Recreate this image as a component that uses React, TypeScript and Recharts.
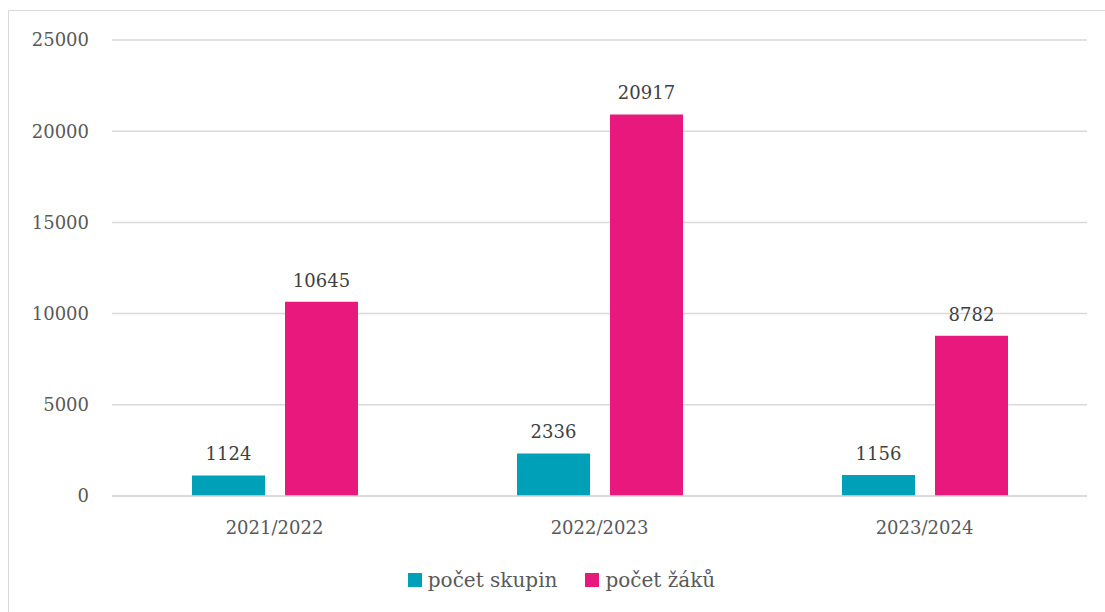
import { BarChart, Bar, CartesianGrid, LabelList, Legend, XAxis, YAxis } from "recharts";

const years = ["2021/2022", "2022/2023", "2023/2024"];
const groupCounts = [1124, 2336, 1156];
const pupilCounts = [10645, 20917, 8782];
const yTicks = [0, 5000, 10000, 15000, 20000, 25000];

const TEAL = "#00a0b9";
const PINK = "#e9187c";
const FONT = "'DejaVu Serif', serif";

const data = years.map((year, i) => ({
  year,
  groups: groupCounts[i],
  pupils: pupilCounts[i],
}));

function ChartLegend() {
  const items = [
    { label: "počet skupin", color: TEAL },
    { label: "počet žáků", color: PINK },
  ];
  return (
    <div
      style={{
        height: 30,
        display: "flex",
        justifyContent: "center",
        alignItems: "center",
        gap: 28,
        paddingRight: 16,
        fontFamily: FONT,
        fontSize: 20,
        color: "#595959",
      }}
    >
      {items.map((item) => (
        <div key={item.label} style={{ display: "flex", alignItems: "center", gap: 6 }}>
          <span style={{ width: 14, height: 14, background: item.color, display: "inline-block" }} />
          <span>{item.label}</span>
        </div>
      ))}
    </div>
  );
}

export default function App() {
  return (
    <div
      style={{
        position: "fixed",
        left: 8,
        top: 10,
        width: 1096,
        height: 601,
        borderLeft: "1px solid #d9d9d9",
        borderTop: "1px solid #d9d9d9",
        background: "#fff",
      }}
    >
      <BarChart
        width={1096}
        height={601}
        data={data}
        margin={{ top: 29, right: 18, left: 43, bottom: 17 }}
        barSize={73}
        barGap={20}
      >
        <CartesianGrid stroke="#d9d9d9" strokeWidth={1.5} vertical={false} />
        <XAxis
          dataKey="year"
          height={69}
          tickLine={false}
          tickSize={0}
          tickMargin={25}
          axisLine={{ stroke: "#d9d9d9", strokeWidth: 1.5 }}
          tick={{ fill: "#595959", fontSize: 18, fontFamily: FONT }}
        />
        <YAxis
          width={60}
          domain={[0, 25000]}
          ticks={yTicks}
          interval={0}
          tickLine={false}
          tickSize={0}
          tickMargin={23}
          axisLine={false}
          tick={{ fill: "#595959", fontSize: 18, fontFamily: FONT }}
        />
        <Legend verticalAlign="bottom" content={() => <ChartLegend />} />
        <Bar dataKey="groups" fill={TEAL} isAnimationActive={false}>
          <LabelList
            dataKey="groups"
            position="top"
            offset={15}
            style={{ fill: "#404040", fontSize: 18, fontFamily: FONT }}
          />
        </Bar>
        <Bar dataKey="pupils" fill={PINK} isAnimationActive={false}>
          <LabelList
            dataKey="pupils"
            position="top"
            offset={15}
            style={{ fill: "#404040", fontSize: 18, fontFamily: FONT }}
          />
        </Bar>
      </BarChart>
    </div>
  );
}
